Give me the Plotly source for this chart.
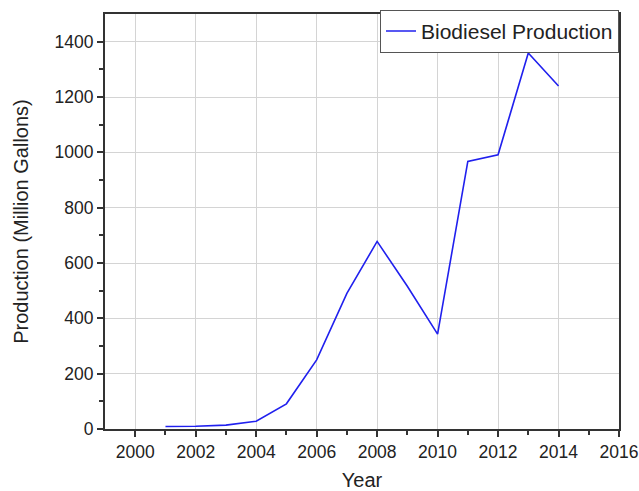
import plotly.graph_objects as go

years = [2001, 2002, 2003, 2004, 2005, 2006, 2007, 2008, 2009, 2010, 2011, 2012, 2013, 2014]
production = [9, 10, 14, 28, 91, 250, 490, 678, 516, 343, 967, 991, 1359, 1240]
x_ticks = [2000, 2002, 2004, 2006, 2008, 2010, 2012, 2014, 2016]
y_ticks = [0, 200, 400, 600, 800, 1000, 1200, 1400]

fig = go.Figure()
fig.add_trace(go.Scatter(x=years, y=production, mode="lines", name="Biodiesel Production",
                         line=dict(color="#2020ee", width=1.6)))

font_family = "Liberation Sans, Arial, sans-serif"
fig.update_layout(
    width=639, height=491,
    margin=dict(l=105, r=20, t=14, b=62, autoexpand=False),
    paper_bgcolor="white", plot_bgcolor="white",
    font=dict(family=font_family, color="#222"),
    showlegend=True,
    legend=dict(x=1, y=1.01, xanchor="right", yanchor="top",
                bgcolor="white", bordercolor="#555", borderwidth=1,
                font=dict(size=21, color="#222"),
                tracegroupgap=0),
    xaxis=dict(range=[1999, 2016], tickvals=x_ticks, ticktext=[str(v) for v in x_ticks],
               automargin=False,
               showgrid=True, gridcolor="#d4d4d4", gridwidth=1,
               showline=True, linecolor="#333", linewidth=2, mirror=True,
               ticks="outside", ticklen=6, tickwidth=1.5, tickcolor="#333",
               minor=dict(tickvals=[2001, 2003, 2005, 2007, 2009, 2011, 2013, 2015],
                          ticks="outside", ticklen=4, tickcolor="#333", showgrid=False),
               tickfont=dict(size=17.5, color="#222"),
               title=dict(text="Year", font=dict(size=20, color="#222"), standoff=13),
               zeroline=False),
    yaxis=dict(range=[0, 1500], tickvals=y_ticks,
               automargin=False,
               showgrid=True, gridcolor="#d4d4d4", gridwidth=1,
               showline=True, linecolor="#333", linewidth=2, mirror=True,
               ticks="outside", ticklen=6, tickwidth=1.5, tickcolor="#333",
               minor=dict(tickvals=[100, 300, 500, 700, 900, 1100, 1300],
                          ticks="outside", ticklen=4, tickcolor="#333", showgrid=False),
               tickfont=dict(size=17.5, color="#222"),
               title=dict(text="Production (Million Gallons)", font=dict(size=20, color="#222"), standoff=21),
               zeroline=False),
)

fig.write_html("out.html",
               config={"displayModeBar": False},
               post_script="document.body.style.margin='0';document.body.style.overflow='hidden';")
